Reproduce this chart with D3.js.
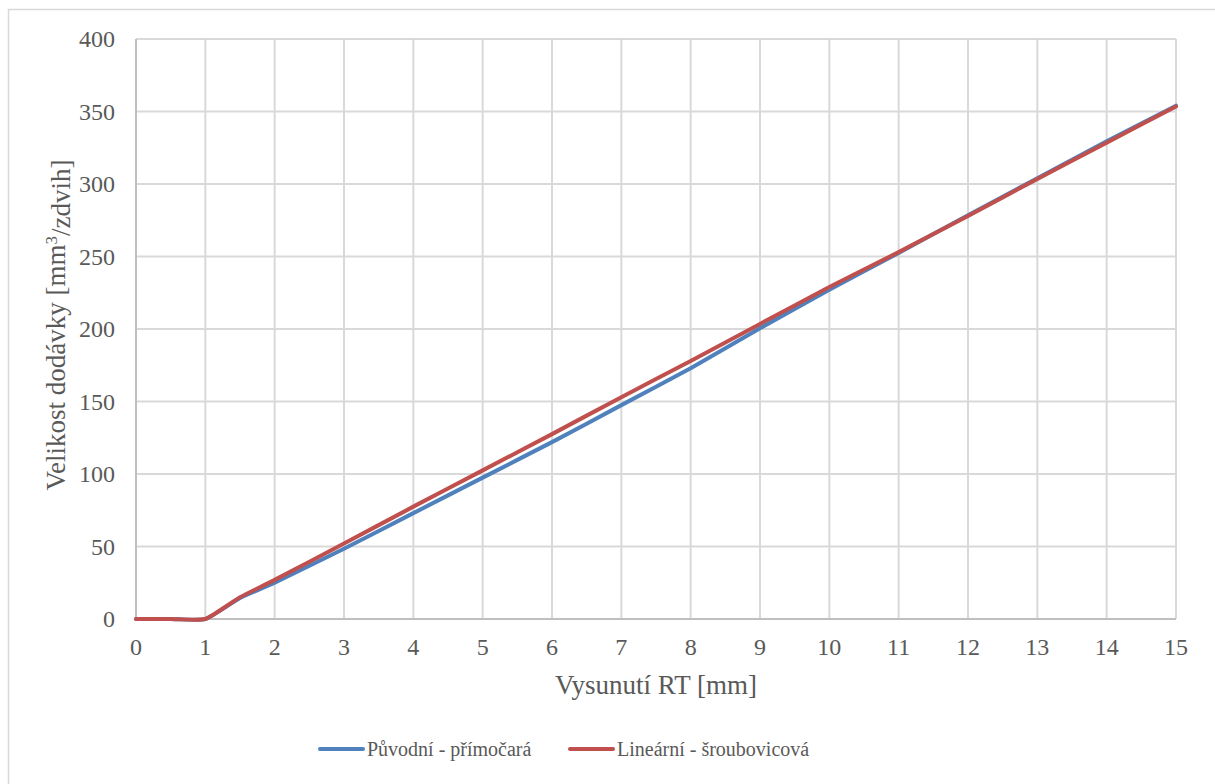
<!DOCTYPE html>
<html>
<head>
<meta charset="utf-8">
<script src="https://cdn.jsdelivr.net/npm/d3@7"></script>
</head>
<body style="margin:0">
<script>
// Vysunutí RT [mm] vs. velikost dodávky
var xValues = [0, 0.5, 1, 1.5, 2, 3, 4, 5, 6, 7, 8, 9, 10, 11, 12, 13, 14, 15];
var puvodni = [0, 0, 0, 14.5, 25, 48.5, 73, 97.5, 122, 147.5, 173, 200.5, 227, 252.5, 278.5, 304, 329.5, 354];
var linearni = [0, 0, 0, 15, 27, 52, 77.5, 102.5, 127.5, 153, 178, 203.5, 229, 253, 278, 303.5, 328.5, 353.5];
var seriesNames = ["Původní - přímočará", "Lineární - šroubovicová"];
var xTicks = d3.range(0, 16, 1);
var yTicks = d3.range(0, 401, 50);

var W = 1215, H = 784;
var margin = {top: 39, left: 136, right: W - 1176, bottom: H - 619};
var width = W - margin.left - margin.right,
    height = H - margin.top - margin.bottom;

var svg = d3.select("body").append("svg")
    .attr("width", W)
    .attr("height", H);

// chart frame
svg.append("rect")
    .attr("x", 8.5).attr("y", 9.5)
    .attr("width", W + 20).attr("height", H + 20)
    .attr("fill", "none")
    .attr("stroke", "#d9d9d9")
    .attr("stroke-width", 1.5);

var g = svg.append("g")
    .attr("transform", `translate(${margin.left}, ${margin.top})`);

var xScale = d3.scaleLinear().domain([0, 15]).range([0, width]),
    yScale = d3.scaleLinear().domain([0, 400]).range([height, 0]);

// grid lines
g.append("g").selectAll("line")
  .data(yTicks).enter().append("line")
    .attr("x1", 0).attr("x2", width)
    .attr("y1", d => yScale(d)).attr("y2", d => yScale(d))
    .attr("stroke", "#d9d9d9").attr("stroke-width", 2);
g.append("g").selectAll("line")
  .data(xTicks).enter().append("line")
    .attr("x1", d => xScale(d)).attr("x2", d => xScale(d))
    .attr("y1", 0).attr("y2", height)
    .attr("stroke", "#d9d9d9").attr("stroke-width", 2);

// axis lines (left and bottom slightly darker)
g.append("line").attr("x1", 0).attr("x2", 0).attr("y1", 0).attr("y2", height)
    .attr("stroke", "#bfbfbf").attr("stroke-width", 2);
g.append("line").attr("x1", 0).attr("x2", width).attr("y1", height).attr("y2", height)
    .attr("stroke", "#bfbfbf").attr("stroke-width", 2);

// tick labels
g.append("g").selectAll("text")
  .data(xTicks).enter().append("text")
    .attr("x", d => xScale(d))
    .attr("y", height + 36)
    .attr("text-anchor", "middle")
    .style("font-family", "'Liberation Serif'")
    .style("font-size", "24px")
    .style("fill", "#595959")
    .text(d => d);
g.append("g").selectAll("text")
  .data(yTicks).enter().append("text")
    .attr("x", -21)
    .attr("y", d => yScale(d) + 8)
    .attr("text-anchor", "end")
    .style("font-family", "'Liberation Serif'")
    .style("font-size", "24px")
    .style("fill", "#595959")
    .text(d => d);

var colors = ["#4f81bd", "#c0504d"];
var allSeries = [puvodni, linearni];

var line = d3.line()
    .x(function(d, i) { return xScale(xValues[i]); })
    .y(function(d) { return yScale(d); })
    .curve(d3.curveCardinal.tension(0.5));

allSeries.forEach(function(s, k) {
  g.append("path")
      .datum(s)
      .attr("fill", "none")
      .attr("stroke", colors[k])
      .attr("stroke-width", 4)
      .attr("stroke-linecap", "round")
      .attr("stroke-linejoin", "round")
      .attr("d", line);
});

// axis titles
svg.append("text")
    .attr("x", margin.left + width / 2)
    .attr("y", 694)
    .attr("text-anchor", "middle")
    .style("font-family", "'Liberation Serif'")
    .style("font-size", "27px")
    .style("fill", "#595959")
    .text("Vysunutí RT [mm]");

var yTitle = svg.append("text")
    .attr("transform", "translate(65, 325) rotate(-90)")
    .attr("text-anchor", "middle")
    .style("font-family", "'Liberation Serif'")
    .style("font-size", "27px")
    .style("fill", "#595959");
yTitle.append("tspan").text("Velikost dodávky [mm");
yTitle.append("tspan").attr("dy", "-0.45em").style("font-size", "17px").text("3");
yTitle.append("tspan").attr("dy", "0.45em").text("/zdvih]");

// legend
var legendX = [320, 570];
seriesNames.forEach(function(name, k) {
  var lg = svg.append("g").attr("transform", `translate(${legendX[k]}, 749)`);
  lg.append("line")
      .attr("x1", 0).attr("x2", 43)
      .attr("stroke", colors[k])
      .attr("stroke-width", 4)
      .attr("stroke-linecap", "round");
  lg.append("text")
      .attr("x", 47)
      .attr("y", 7)
      .style("font-family", "'Liberation Serif'")
      .style("font-size", "20px")
      .style("fill", "#595959")
      .text(name);
});
</script>
</body>
</html>
